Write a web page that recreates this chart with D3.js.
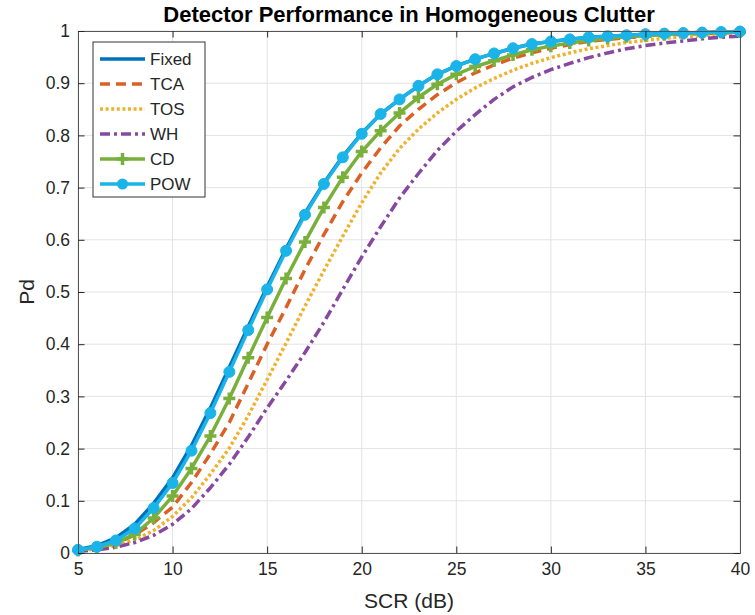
<!DOCTYPE html>
<html>
<head>
<meta charset="utf-8">
<script src="https://cdn.jsdelivr.net/npm/d3@7"></script>
<style>
  html, body { margin: 0; padding: 0; background: #fff; }
  svg { display: block; font-family: "Liberation Sans", Arial, Helvetica, sans-serif; }
</style>
</head>
<body>
<svg id="chart" width="755" height="615"></svg>
<script>
// ---- Data ----
const scr = d3.range(5, 41); // 5..40 dB

const fixedPd = [0.007,0.014,0.029,0.055,0.095,0.144,0.206,0.278,0.356,0.434,0.510,0.583,0.651,0.709,0.760,0.804,0.841,0.869,0.895,0.917,0.933,0.946,0.957,0.967,0.975,0.980,0.984,0.988,0.990,0.992,0.994,0.995,0.996,0.997,0.998,0.999];
const tcaPd   = [0.005,0.009,0.018,0.035,0.058,0.088,0.135,0.190,0.250,0.325,0.400,0.470,0.543,0.610,0.673,0.728,0.776,0.818,0.850,0.878,0.901,0.920,0.935,0.948,0.958,0.967,0.974,0.980,0.984,0.987,0.990,0.992,0.994,0.995,0.996,0.997];
const tosPd   = [0.004,0.008,0.014,0.025,0.043,0.070,0.106,0.151,0.201,0.263,0.332,0.402,0.473,0.541,0.607,0.671,0.728,0.775,0.812,0.843,0.869,0.891,0.909,0.925,0.938,0.949,0.958,0.966,0.972,0.978,0.982,0.986,0.989,0.991,0.993,0.995];
const whPd    = [0.003,0.006,0.011,0.020,0.034,0.055,0.085,0.125,0.170,0.222,0.278,0.330,0.384,0.442,0.505,0.567,0.625,0.680,0.727,0.771,0.808,0.840,0.869,0.893,0.911,0.926,0.938,0.949,0.958,0.966,0.972,0.977,0.981,0.985,0.988,0.990];
const cdPd    = [0.005,0.010,0.019,0.036,0.067,0.109,0.162,0.224,0.296,0.374,0.451,0.526,0.596,0.662,0.720,0.769,0.809,0.843,0.873,0.898,0.917,0.932,0.943,0.954,0.964,0.971,0.977,0.982,0.986,0.989,0.991,0.993,0.995,0.996,0.997,0.998];
const powPd   = [0.006,0.012,0.024,0.047,0.086,0.134,0.196,0.268,0.347,0.427,0.505,0.579,0.648,0.707,0.758,0.803,0.841,0.869,0.895,0.917,0.933,0.946,0.957,0.967,0.975,0.980,0.984,0.988,0.990,0.992,0.994,0.995,0.996,0.997,0.998,0.999];

const seriesNames = ["Fixed", "TCA", "TOS", "WH", "CD", "POW"];
const xTicks = [5, 10, 15, 20, 25, 30, 35, 40];
const yTicks = [0, 0.1, 0.2, 0.3, 0.4, 0.5, 0.6, 0.7, 0.8, 0.9, 1];
const titleText = "Detector Performance in Homogeneous Clutter";
const xLabelText = "SCR (dB)";
const yLabelText = "Pd";

// ---- Styles ----
const styles = {
  Fixed: { color: "#0072BD", dash: null, marker: null },
  TCA:   { color: "#DC5F26", dash: "10,6", marker: null },
  TOS:   { color: "#EFB22E", dash: "3,2.6", marker: null },
  WH:    { color: "#8748A0", dash: "10,4,3,4", marker: null },
  CD:    { color: "#79B03C", dash: null, marker: "plus" },
  POW:   { color: "#1AB4E8", dash: null, marker: "circle" }
};
const seriesValues = { Fixed: fixedPd, TCA: tcaPd, TOS: tosPd, WH: whPd, CD: cdPd, POW: powPd };

const svg = d3.select("#chart");
const margin = { left: 78, right: 15, top: 31, bottom: 62 };
const W = 755, H = 615;
const x = d3.scaleLinear().domain([5, 40]).range([margin.left, W - margin.right]);
const y = d3.scaleLinear().domain([0, 1]).range([H - margin.bottom, margin.top]);
const axisColor = "#262626";
const textColor = "#262626";

// grid
const grid = svg.append("g");
grid.selectAll("line.gx").data(xTicks).enter().append("line")
  .attr("x1", d => x(d)).attr("x2", d => x(d))
  .attr("y1", y(0)).attr("y2", y(1))
  .attr("stroke", "#e3e3e3").attr("stroke-width", 1);
grid.selectAll("line.gy").data(yTicks).enter().append("line")
  .attr("y1", d => y(d)).attr("y2", d => y(d))
  .attr("x1", x(5)).attr("x2", x(40))
  .attr("stroke", "#e3e3e3").attr("stroke-width", 1);

// lines
const lineGen = d3.line().x((d, i) => x(scr[i])).y(d => y(d));
const plotG = svg.append("g");
seriesNames.forEach(name => {
  const st = styles[name];
  plotG.append("path")
    .datum(seriesValues[name])
    .attr("d", lineGen)
    .attr("fill", "none")
    .attr("stroke", st.color)
    .attr("stroke-width", 3.5)
    .attr("stroke-linejoin", "round")
    .attr("stroke-dasharray", st.dash)
    .attr("stroke-linecap", "butt");
  if (st.marker === "circle") {
    plotG.selectAll(null).data(seriesValues[name]).enter().append("circle")
      .attr("cx", (d, i) => x(scr[i])).attr("cy", d => y(d))
      .attr("r", 5.5).attr("fill", st.color).attr("stroke", st.color).attr("stroke-width", 1);
  } else if (st.marker === "plus") {
    const s = 6;
    plotG.selectAll(null).data(seriesValues[name]).enter().append("path")
      .attr("d", (d, i) => {
        const cx = x(scr[i]), cy = y(d);
        return `M${cx - s},${cy}L${cx + s},${cy}M${cx},${cy - s}L${cx},${cy + s}`;
      })
      .attr("stroke", st.color).attr("stroke-width", 3.5).attr("fill", "none");
  }
});

// axes box with inward ticks
const axG = svg.append("g");
const tickLen = 6.5;
const xAxisB = d3.axisBottom(x).tickValues(xTicks).tickSize(-tickLen).tickPadding(10).tickFormat(d3.format("d"));
const xAxisT = d3.axisTop(x).tickValues(xTicks).tickSize(-tickLen).tickFormat("");
const yAxisL = d3.axisLeft(y).tickValues(yTicks).tickSize(-tickLen).tickPadding(8).tickFormat(d => d === 0 || d === 1 ? d3.format("d")(d) : d3.format(".1f")(d));
const yAxisR = d3.axisRight(y).tickValues(yTicks).tickSize(-tickLen).tickFormat("");

function styleAxis(g) {
  g.select(".domain").attr("stroke", "#555").attr("stroke-width", 1);
  g.selectAll(".tick line").attr("stroke", axisColor).attr("stroke-width", 1);
  g.selectAll(".tick text").attr("fill", textColor).style("font-size", "17.5px")
    .style("font-family", "'Liberation Sans', Arial, sans-serif");
}
axG.append("g").attr("transform", `translate(0,${y(0)})`).call(xAxisB).call(styleAxis);
axG.append("g").attr("transform", `translate(0,${y(1)})`).call(xAxisT).call(styleAxis);
axG.append("g").attr("transform", `translate(${x(5)},0)`).call(yAxisL).call(styleAxis);
axG.append("g").attr("transform", `translate(${x(40)},0)`).call(yAxisR).call(styleAxis);

// title and labels
svg.append("text").attr("x", (x(5) + x(40)) / 2).attr("y", 22)
  .attr("text-anchor", "middle").attr("fill", "#000")
  .style("font-size", "22px").style("font-weight", "bold")
  .text(titleText);
svg.append("text").attr("x", (x(5) + x(40)) / 2).attr("y", 608)
  .attr("text-anchor", "middle").attr("fill", textColor)
  .style("font-size", "21px").text(xLabelText);
svg.append("text").attr("transform", `translate(34,${(y(0) + y(1)) / 2}) rotate(-90)`)
  .attr("text-anchor", "middle").attr("fill", textColor)
  .style("font-size", "21px").text(yLabelText);

// legend
const lg = svg.append("g");
const lgX = 93, lgY = 42, lgW = 112, lgH = 155;
lg.append("rect").attr("x", lgX).attr("y", lgY).attr("width", lgW).attr("height", lgH)
  .attr("fill", "#fff").attr("stroke", "#333").attr("stroke-width", 1);
const rowY = d3.scalePoint().domain(seriesNames).range([lgY + 17, lgY + 142]);
seriesNames.forEach(name => {
  const st = styles[name];
  const ry = rowY(name);
  lg.append("line").attr("x1", lgX + 7).attr("x2", lgX + 52).attr("y1", ry).attr("y2", ry)
    .attr("stroke", st.color).attr("stroke-width", 3.5).attr("stroke-dasharray", st.dash);
  const mx = lgX + 29.5;
  if (st.marker === "circle") {
    lg.append("circle").attr("cx", mx).attr("cy", ry).attr("r", 5.5).attr("fill", st.color);
  } else if (st.marker === "plus") {
    lg.append("path").attr("d", `M${mx - 6},${ry}L${mx + 6},${ry}M${mx},${ry - 6}L${mx},${ry + 6}`)
      .attr("stroke", st.color).attr("stroke-width", 3.5);
  }
  lg.append("text").attr("x", lgX + 57).attr("y", ry).attr("dy", "0.35em")
    .attr("fill", textColor).style("font-size", "17px").text(name);
});
</script>
</body>
</html>
